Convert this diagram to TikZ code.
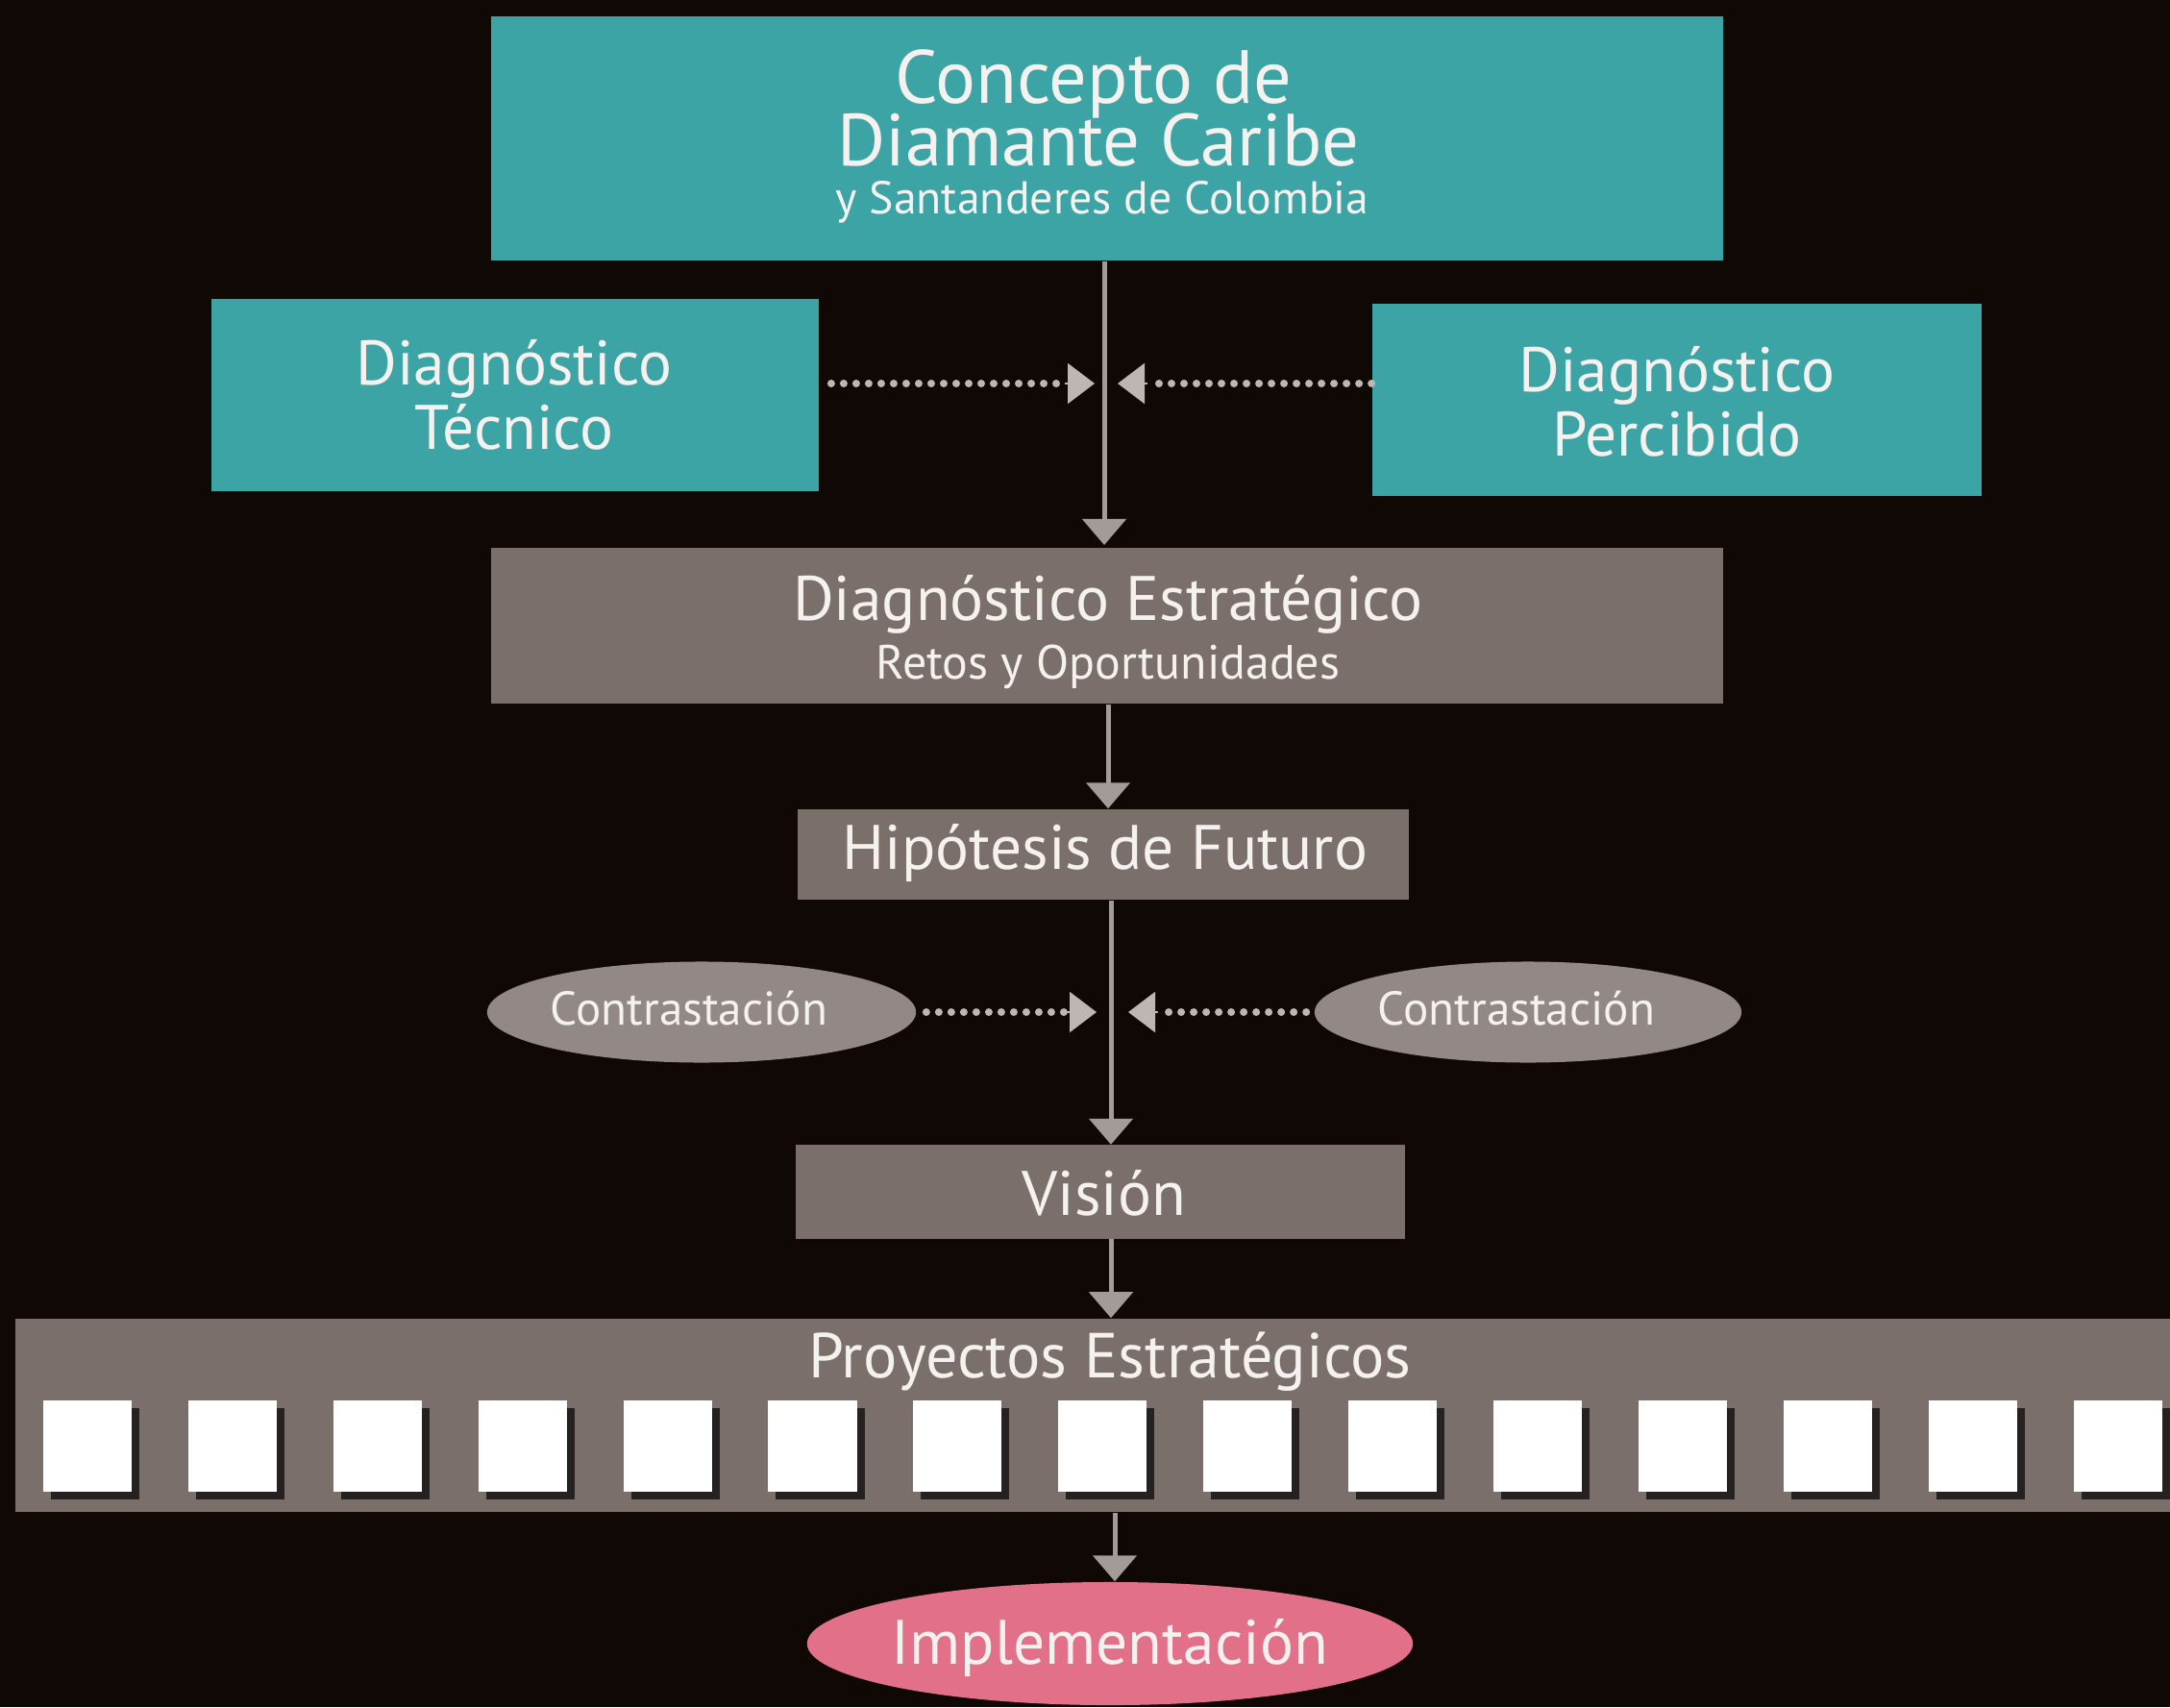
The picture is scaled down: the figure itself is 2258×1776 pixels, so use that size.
\documentclass[tikz,border=0pt]{standalone}
\usepackage{fontspec}
\setmainfont{PT Sans}
\usetikzlibrary{arrows.meta,shapes.geometric,shadows}
\definecolor{cbg}{HTML}{100805}
\definecolor{cteal}{HTML}{3CA4A5}
\definecolor{cgray}{HTML}{7B6F6C}
\definecolor{coval}{HTML}{928986}
\definecolor{cpink}{HTML}{E27089}
\definecolor{carrow}{HTML}{A29B98}
\definecolor{cdot}{HTML}{BDB6B2}
\definecolor{ctext}{HTML}{F4F1EF}
\begin{document}
\begin{tikzpicture}[x=0.01cm,y=-0.01cm,
  box/.style={rectangle, inner sep=0pt, draw=none},
  tealbox/.style={box, fill=cteal},
  graybox/.style={box, fill=cgray},
  oval/.style={ellipse, inner sep=0pt, fill=coval},
  sq/.style={rectangle, inner sep=0pt, fill=white, minimum width=0.92cm, minimum height=0.95cm,
     drop shadow={fill=black, opacity=0.7, shadow xshift=0.08cm, shadow yshift=-0.08cm}},
  txt/.style={anchor=base, inner sep=0pt, text=ctext},
  big/.style={txt, font=\fontsize{22.3}{24}\selectfont},
  mid/.style={txt, font=\fontsize{18.6}{22}\selectfont},
  small/.style={txt, font=\fontsize{14}{17}\selectfont},
  arr/.style={draw=carrow, line width=0.05cm, -{Triangle[width=0.45cm,length=0.27cm]}},
  dots/.style={draw=cdot, line width=0.08cm, line cap=round, dash pattern=on 0pt off 0.13cm},
  tip/.style={draw=cdot, line width=0.02cm, -{Triangle[width=0.42cm,length=0.28cm,fill=cdot]}}
]
% background
\fill[cbg] (0,0) rectangle (2258,1776);
\useasboundingbox (0,0) rectangle (2258,1776);

% boxes
\node[tealbox, minimum width=12.82cm, minimum height=2.54cm] (concept) at (1152,144) {};
\node[tealbox, minimum width=6.32cm, minimum height=2.00cm] (tec) at (536,411) {};
\node[tealbox, minimum width=6.34cm, minimum height=1.99cm] (perc) at (1745,416) {};
\node[graybox, minimum width=12.82cm, minimum height=1.62cm] (estr) at (1152,651) {};
\node[graybox, minimum width=6.35cm, minimum height=0.94cm] (hip) at (1148,889) {};
\node[oval, minimum width=4.46cm, minimum height=1.05cm] (contL) at (730,1053) {};
\node[oval, minimum width=4.44cm, minimum height=1.05cm] (contR) at (1590,1053) {};
\node[graybox, minimum width=6.34cm, minimum height=0.97cm] (vis) at (1145,1240) {};
\node[graybox, minimum width=22.41cm, minimum height=2.01cm] (band) at (1137.5,1472.5) {};
\foreach \i in {0,...,14}
  \node[sq] (s\i) at ({91+150.9*\i},1504.5) {};
\node[ellipse, inner sep=0pt, fill=cpink, minimum width=6.30cm, minimum height=1.28cm] (impl) at (1155,1710) {};

% texts
\node[big] (t1) at (1138,108) {Concepto de};
\node[big, font=\fontsize{21.8}{24}\selectfont] (t2) at (1143,173) {Diamante Caribe};
\node[small, font=\fontsize{13.6}{17}\selectfont] (t3) at (1147,223) {y Santanderes de Colombia};
\node[mid] (t4) at (535,400) {Diagnóstico};
\node[mid] (t5) at (535,468) {Técnico};
\node[mid] (t6) at (1745,408) {Diagnóstico};
\node[mid] (t7) at (1745,475) {Percibido};
\node[mid] (t8) at (1153,645) {Diagnóstico Estratégico};
\node[small, font=\fontsize{14.2}{17}\selectfont] (t9) at (1153,706) {Retos y Oportunidades};
\node[mid] (t10) at (1150,904) {Hipótesis de Futuro};
\node[small] (t11) at (717,1066) {Contrastación};
\node[small] (t12) at (1578,1066) {Contrastación};
\node[mid] (t13) at (1149,1264) {Visión};
\node[mid, font=\fontsize{18.8}{22}\selectfont] (t14) at (1155,1433) {Proyectos Estratégicos};
\node[mid] (t15) at (1155,1731) {Implementación};

% main flow
\draw[arr] (concept.south -| 1149,0) -- (1149,567);
\draw[arr] (estr.south -| 1153,0) -- (hip.north -| 1153,0);
\draw[arr] (hip.south -| 1156,0) -- (vis.north -| 1156,0);
\draw[arr] (vis.south -| 1156,0) -- (band.north -| 1156,0);
\draw[arr] (band.south -| 1160,0) -- (impl.north -| 1160,0);

% dotted side arrows
\coordinate (a1) at (1108,399);
\coordinate (a1t) at (1139,399);
\coordinate (a2) at (1194,399);
\coordinate (a2t) at (1163,399);
\draw[dots] (tec.east |- 0,399) ++(12,0) -- (a1);
\draw[dots] (perc.west |- 0,399) -- (a2);
\draw[tip] (a1) -- (a1t);
\draw[tip] (a2) -- (a2t);

\coordinate (b1) at (1110,1053);
\coordinate (b1t) at (1141,1053);
\coordinate (b2) at (1205,1053);
\coordinate (b2t) at (1174,1053);
\draw[dots] (contL.east) ++(10,0) -- (b1);
\draw[dots] (contR.west) ++(-8,0) -- (b2);
\draw[tip] (b1) -- (b1t);
\draw[tip] (b2) -- (b2t);
\end{tikzpicture}
\end{document}
